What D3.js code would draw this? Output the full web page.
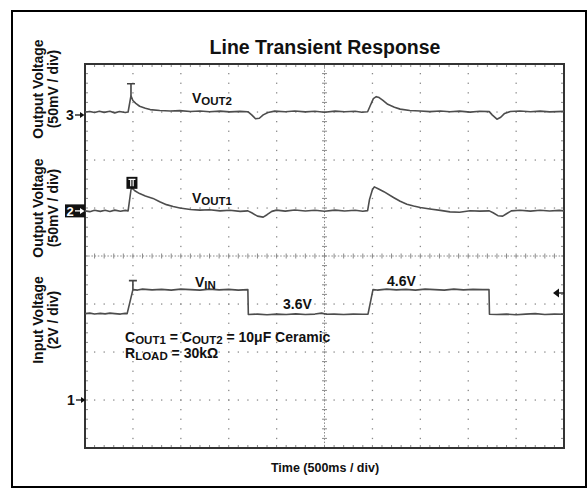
<!DOCTYPE html>
<html><head><meta charset="utf-8">
<script src="https://cdn.jsdelivr.net/npm/d3@7"></script>
<style>
body{margin:0;background:#fff;}
svg{display:block;}
text{font-family:"Liberation Sans",Arial,Helvetica,sans-serif;font-weight:bold;fill:#111;}
</style>
</head><body>
<svg id="c" width="588" height="489"></svg>
<script>
// ---------- DATA ----------
const title = "Line Transient Response";
const xTitle = "Time (500ms / div)";
const msPerDiv = 500;           // time base
const channelMarks = ["3", "2", "1"];

// VOUT2 trace: time (s) and deviation (mV)
const vout2T  = [0,0.05,0.10,0.15,0.20,0.26,0.31,0.36,0.42,0.45,0.48,0.50,0.53,0.57,0.63,0.68,0.78,0.89,0.99,1.10,1.20,1.30,1.41,1.51,1.62,1.70,1.74,1.78,1.82,1.86,1.91,1.98,2.09,2.19,2.30,2.40,2.50,2.61,2.71,2.82,2.89,2.95,2.975,3.01,3.04,3.07,3.11,3.16,3.23,3.29,3.39,3.50,3.60,3.71,3.81,3.91,4.02,4.12,4.22,4.25,4.30,4.34,4.38,4.44,4.54,4.65,4.75,4.85,5.00];
const vout2mV = [0,0.6,-0.6,0.8,-0.4,0.7,-0.9,0.5,-0.6,0,17,12,9,6,4,2.5,1.6,1.0,1.4,0.5,1.0,0.2,0.9,0.1,0.7,0.3,-3,-7,-6.5,-3,-0.5,0.9,0.2,1.0,0.1,0.8,-0.2,0.9,0.2,0.8,-0.3,0.2,6,14,16,15,12,8,5,3,1.5,1.1,0.4,1.0,0.2,0.9,-0.1,0.8,0.4,-3,-7.5,-5.5,-1.5,0.5,1.0,0.2,0.9,0.1,0.6];

// VOUT1 trace: time (s) and deviation (mV)
const vout1T  = [0,0.05,0.10,0.16,0.21,0.26,0.31,0.37,0.42,0.45,0.48,0.49,0.52,0.57,0.63,0.71,0.78,0.85,0.92,0.99,1.10,1.20,1.30,1.41,1.51,1.62,1.70,1.74,1.80,1.86,1.90,1.95,2.00,2.09,2.19,2.30,2.40,2.50,2.61,2.71,2.82,2.90,2.95,2.97,3.00,3.02,3.06,3.12,3.22,3.29,3.36,3.43,3.50,3.60,3.71,3.81,3.91,4.02,4.12,4.22,4.26,4.31,4.36,4.40,4.45,4.54,4.65,4.75,4.85,4.95,5.00];
const vout1mV = [0,-0.8,0.6,-0.5,0.7,-0.6,0.8,-0.4,0.5,0,22,24,21,18,15.5,13,9.5,6.5,4.5,3,1.5,0.8,1.2,0,0.6,-0.5,0,-2,-5.5,-6.5,-4,-0.5,0.8,-0.3,0.9,-0.2,0.6,-0.4,0.8,-0.1,0.7,-0.4,0.3,12,22,25,23,20,14,10,7,5,3.5,2,0.5,-1,-1.5,0.2,-0.3,0,-2,-5,-5.5,-3,0,0.6,-0.3,0.7,-0.2,0.5,0];

// VIN trace: time (s) and volts
const vinT = [0,0.05,0.10,0.16,0.21,0.26,0.31,0.37,0.42,0.44,0.50,0.55,0.60,0.70,0.80,0.90,1.00,1.10,1.20,1.30,1.40,1.50,1.60,1.70,1.705,1.80,1.90,2.00,2.10,2.20,2.30,2.40,2.47,2.52,2.60,2.70,2.80,2.90,2.954,3.006,3.05,3.15,3.25,3.35,3.45,3.55,3.65,3.75,3.85,3.95,4.05,4.15,4.217,4.222,4.30,4.40,4.50,4.60,4.70,4.80,4.90,5.00];
const vinV = [3.60,3.62,3.58,3.61,3.59,3.62,3.60,3.58,3.61,3.60,4.60,4.58,4.62,4.59,4.61,4.58,4.62,4.60,4.58,4.62,4.59,4.61,4.58,4.60,3.56,3.58,3.55,3.58,3.56,3.59,3.56,3.58,3.62,3.57,3.58,3.56,3.58,3.57,3.58,4.60,4.58,4.62,4.59,4.61,4.58,4.62,4.60,4.58,4.62,4.59,4.61,4.60,4.60,3.57,3.56,3.58,3.55,3.58,3.60,3.56,3.58,3.57];

const vout2Label = ["V","OUT2"];
const vout1Label = ["V","OUT1"];
const vinLabel = ["V","IN"];
const vinLevels = ["3.6V","4.6V"];
const yTitles = [["Output Voltage","(50mV / div)"],["Output Voltage","(50mV / div)"],["Input Voltage","(2V / div)"]];

// channel settings (vertical offset in divisions, units per division)
const ch3 = {offset: 3, perDiv: 50};
const ch2 = {offset: 0.94, perDiv: 50};
const ch1 = {offset: -3, perDiv: 2};

// ---------- DRAW ----------
const svg = d3.select("#c");
const x = d3.scaleLinear().domain([0, 10 * msPerDiv / 1000]).range([85, 564]);
const y = d3.scaleLinear().domain([-4, 4]).range([448, 64]);
const gridCol = "#8a8a8a";

// outer frame
svg.append("rect").attr("x",12).attr("y",11).attr("width",574).attr("height",476)
  .attr("fill","none").attr("stroke","#000").attr("stroke-width",2);

// title
svg.append("text").attr("x",325).attr("y",54).attr("text-anchor","middle")
  .style("font-size","19.5px").text(title);

const g = svg.append("g");
const x0 = x.range()[0], x1 = x.range()[1], y0 = y.range()[1], y1 = y.range()[0];

// grid dots
const sub = d3.range(1, 50).map(i => i / 5);      // x sub-divisions in div units
const subY = d3.range(1, 40).map(i => i / 5 - 4); // y sub-divisions
const tOfDiv = d => d * msPerDiv / 1000;
for (let k = 1; k <= 9; k++) {
  if (k === 5) continue;
  subY.forEach(v => g.append("rect").attr("x", x(tOfDiv(k)) - 0.6).attr("y", y(v) - 0.6)
    .attr("width",1.3).attr("height",1.3).attr("fill",gridCol));
}
for (let k = -3; k <= 3; k++) {
  if (k === 0) continue;
  sub.forEach(v => g.append("rect").attr("x", x(tOfDiv(v)) - 0.6).attr("y", y(k) - 0.6)
    .attr("width",1.3).attr("height",1.3).attr("fill",gridCol));
}
// center cross with ticks
g.append("line").attr("x1",x0).attr("x2",x1).attr("y1",y(0)).attr("y2",y(0))
  .attr("stroke",gridCol).attr("stroke-width",1).attr("stroke-dasharray","1.5,1.7");
g.append("line").attr("x1",x(tOfDiv(5))).attr("x2",x(tOfDiv(5))).attr("y1",y0).attr("y2",y1)
  .attr("stroke",gridCol).attr("stroke-width",1).attr("stroke-dasharray","1.5,1.7");
sub.forEach(v => g.append("line").attr("x1",x(tOfDiv(v))).attr("x2",x(tOfDiv(v)))
  .attr("y1",y(0)-2.5).attr("y2",y(0)+2.5).attr("stroke",gridCol).attr("stroke-width",1));
subY.forEach(v => g.append("line").attr("y1",y(v)).attr("y2",y(v))
  .attr("x1",x(tOfDiv(5))-2.5).attr("x2",x(tOfDiv(5))+2.5).attr("stroke",gridCol).attr("stroke-width",1));
// border ticks
sub.forEach(v => {
  const xx = x(tOfDiv(v));
  g.append("line").attr("x1",xx).attr("x2",xx).attr("y1",y0).attr("y2",y0+3).attr("stroke",gridCol);
  g.append("line").attr("x1",xx).attr("x2",xx).attr("y1",y1).attr("y2",y1-3).attr("stroke",gridCol);
});
subY.forEach(v => {
  const yy = y(v);
  g.append("line").attr("y1",yy).attr("y2",yy).attr("x1",x0).attr("x2",x0+3).attr("stroke",gridCol);
  g.append("line").attr("y1",yy).attr("y2",yy).attr("x1",x1).attr("x2",x1-3).attr("stroke",gridCol);
});
// plot border
g.append("rect").attr("x",x0).attr("y",y0).attr("width",x1-x0).attr("height",y1-y0)
  .attr("fill","none").attr("stroke","#333").attr("stroke-width",2);

// traces
function trace(ts, vs, ch) {
  const pts = ts.map((t, i) => [t, vs[i]]);
  const line = d3.line().x(d => x(d[0])).y(d => y(ch.offset + d[1] / ch.perDiv));
  svg.append("path").attr("d", line(pts)).attr("fill","none")
    .attr("stroke","#4d4d4d").attr("stroke-width",1.6).attr("stroke-linejoin","round");
  return pts;
}
const p2 = trace(vout2T, vout2mV, ch3);
const p1 = trace(vout1T, vout1mV, ch2);
const pin = trace(vinT, vinV, ch1);

// trigger markers "T"
function tMark(px, py, h) {
  svg.append("path").attr("d", `M${px-4},${py-h}H${px+4}M${px},${py-h}V${py}`)
    .attr("stroke","#444").attr("stroke-width",1.6).attr("fill","none");
}
const pk2 = p2[10];
tMark(x(pk2[0]), y(ch3.offset + pk2[1]/ch3.perDiv), 12);
const pkIn = pin[10];
tMark(x(pkIn[0]), y(ch1.offset + pkIn[1]/ch1.perDiv), 9);
// channel-2 trigger box
const pk1 = p1[11];
const bx = x(pk1[0]), by = y(ch2.offset + pk1[1]/ch2.perDiv);
svg.append("rect").attr("x",bx-5.5).attr("y",by-11).attr("width",11).attr("height",12).attr("fill","#111");
svg.append("path").attr("d",`M${bx-3.5},${by-8.5}H${bx+3.5}M${bx-1.2},${by-8.5}V${by-1.5}M${bx+1.2},${by-8.5}V${by-1.5}`)
  .attr("stroke","#fff").attr("stroke-width",1.2);

// channel markers on left
function arrow(xs, yy, col) {
  svg.append("line").attr("x1",xs).attr("x2",xs+6).attr("y1",yy).attr("y2",yy).attr("stroke",col).attr("stroke-width",1.3);
  svg.append("path").attr("d",`M${xs+5},${yy-3}L${xs+9.5},${yy}L${xs+5},${yy+3}Z`).attr("fill",col);
}
const m3 = y(ch3.offset) + 3, m2 = y(ch2.offset) , m1 = y(ch1.offset);
svg.append("text").attr("x",66).attr("y",m3+5).style("font-size","14px").text(channelMarks[0]);
arrow(75, m3, "#111");
svg.append("rect").attr("x",65).attr("y",m2-6.5).attr("width",20).attr("height",13).attr("fill","#111");
svg.append("text").attr("x",66.5).attr("y",m2+5).style("font-size","13px").style("fill","#fff").text(channelMarks[1]);
arrow(75, m2, "#fff");
svg.append("text").attr("x",67).attr("y",m1+5).style("font-size","14px").text(channelMarks[2]);
arrow(76, m1, "#111");

// right trigger-level arrow
const ra = 293;
svg.append("path").attr("d",`M553,${ra}L559,${ra-4.5}L559,${ra+4.5}Z`).attr("fill","#111");
svg.append("line").attr("x1",558).attr("x2",564).attr("y1",ra).attr("y2",ra).attr("stroke","#111").attr("stroke-width",1.3);

// labels with subscripts
function subLabel(xp, yp, parts, big, small) {
  const t = svg.append("text").attr("x",xp).attr("y",yp).style("font-size",big+"px");
  parts.forEach(p => {
    const s = t.append("tspan").text(p.text).style("font-size",(p.sub?small:big)+"px");
    if (p.dy) s.attr("dy", p.dy);
  });
}
subLabel(192,103,[{text:vout2Label[0]},{text:vout2Label[1],sub:true,dy:2}],14,11.5);
subLabel(192,203,[{text:vout1Label[0]},{text:vout1Label[1],sub:true,dy:2}],14,11.5);
subLabel(195,287,[{text:vinLabel[0]},{text:vinLabel[1],sub:true,dy:2}],14,11.5);
svg.append("text").attr("x",283).attr("y",309).style("font-size","14px").text(vinLevels[0]);
svg.append("text").attr("x",387).attr("y",286).style("font-size","14px").text(vinLevels[1]);
subLabel(125,342,[{text:"C"},{text:"OUT1",sub:true,dy:1.5},{text:" = C",dy:-1.5},{text:"OUT2",sub:true,dy:1.5},{text:" = 10\u03bcF Ceramic",dy:-1.5}],14,11.5);
subLabel(125,358,[{text:"R"},{text:"LOAD",sub:true,dy:1.5},{text:" = 30k\u03a9",dy:-1.5}],14,11.5);

// y titles
const yCenters = [89, 208, 320];
yTitles.forEach((lines, i) => {
  [43, 58].forEach((bx2, j) => {
    svg.append("text").attr("transform",`translate(${bx2},${yCenters[i]}) rotate(-90)`)
      .attr("text-anchor","middle").style("font-size","14px").text(lines[j]);
  });
});

// x title
svg.append("text").attr("x",325).attr("y",472).attr("text-anchor","middle")
  .style("font-size","12.5px").text(xTitle);
</script>
</body></html>
